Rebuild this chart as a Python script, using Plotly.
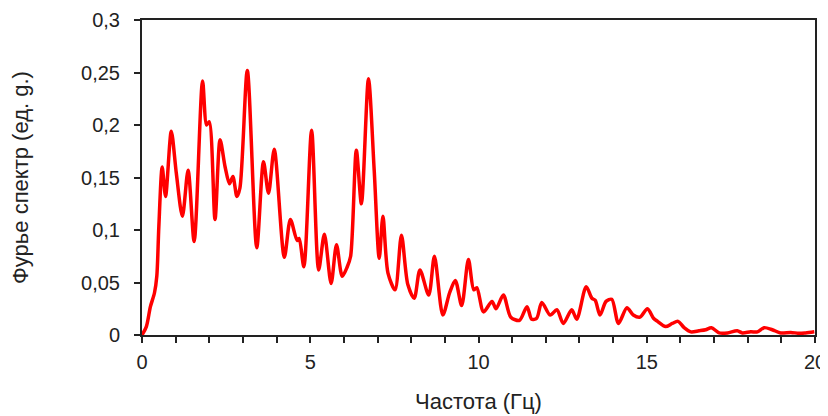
import plotly.graph_objects as go

freq = [0, 0.13, 0.25, 0.37, 0.44, 0.5, 0.6, 0.70, 0.87, 1.02, 1.2, 1.37, 1.55, 1.80, 1.92, 2.0,
        2.17, 2.32, 2.47, 2.6, 2.7, 2.82, 2.91, 3.13, 3.41, 3.61, 3.76, 3.93, 4.23, 4.41, 4.61,
        4.67, 4.81, 5.04, 5.25, 5.42, 5.62, 5.78, 5.95, 6.1, 6.2, 6.37, 6.52, 6.73, 6.9, 7.05,
        7.16, 7.31, 7.52, 7.71, 7.9, 8.09, 8.26, 8.52, 8.69, 8.94, 9.14, 9.31, 9.5, 9.7, 9.86,
        9.95, 10.15, 10.4, 10.52, 10.74, 10.96, 11.22, 11.44, 11.58, 11.73, 11.88, 12.13, 12.33,
        12.52, 12.77, 12.92, 13.2, 13.37, 13.47, 13.61, 13.79, 13.96, 14.16, 14.41, 14.6, 14.8,
        15.02, 15.2, 15.32, 15.56, 15.76, 15.93, 16.11, 16.31, 16.55, 16.75, 16.92, 17.15, 17.4,
        17.69, 17.84, 18.09, 18.29, 18.49, 18.73, 18.98, 19.28, 19.52, 19.72, 19.98]

spectrum = [0, 0.008, 0.027, 0.040, 0.056, 0.103, 0.160, 0.132, 0.194, 0.154, 0.113, 0.157, 0.089,
            0.242, 0.200, 0.203, 0.110, 0.186, 0.160, 0.144, 0.151, 0.132, 0.140, 0.252, 0.083,
            0.165, 0.135, 0.177, 0.074, 0.110, 0.090, 0.092, 0.065, 0.195, 0.062, 0.096, 0.049,
            0.086, 0.056, 0.065, 0.075, 0.176, 0.125, 0.244, 0.157, 0.073, 0.113, 0.059, 0.043,
            0.095, 0.048, 0.035, 0.062, 0.038, 0.075, 0.019, 0.040, 0.052, 0.028, 0.072, 0.043,
            0.045, 0.022, 0.032, 0.025, 0.038, 0.017, 0.014, 0.027, 0.015, 0.016, 0.031, 0.019,
            0.024, 0.011, 0.024, 0.015, 0.046, 0.035, 0.033, 0.019, 0.032, 0.034, 0.011, 0.026,
            0.019, 0.017, 0.025, 0.016, 0.013, 0.008, 0.011, 0.013, 0.007, 0.003, 0.004, 0.005,
            0.007, 0.002, 0.002, 0.004, 0.002, 0.003, 0.003, 0.007, 0.005, 0.002, 0.0025, 0.0016,
            0.002, 0.003]

x_title = "Частота (Гц)"
y_title = "Фурье спектр (ед. g.)"

fig = go.Figure()
fig.add_trace(go.Scatter(x=freq, y=spectrum, mode="lines",
                         line=dict(color="#ff0000", width=3.5, shape="spline", smoothing=0.8),
                         showlegend=False, hoverinfo="skip"))

axis_color = "#222222"
tick_font = dict(family="Liberation Sans, Arial, sans-serif", size=20, color="#222222")
title_font = dict(family="Liberation Sans, Arial, sans-serif", size=22, color="#222222")

fig.update_layout(
    width=828, height=416,
    margin=dict(l=134, r=21, t=12, b=89),
    paper_bgcolor="white", plot_bgcolor="white",
    separators=", ",
    font=tick_font,
    xaxis=dict(range=[0, 20], dtick=5, tick0=0, showgrid=False, zeroline=False,
               showline=True, linecolor=axis_color, linewidth=2, mirror=True,
               ticks="outside", ticklen=6, tickwidth=2, tickcolor=axis_color,
               minor=dict(dtick=1, ticks="outside", ticklen=6, tickwidth=2, tickcolor=axis_color),
               ticklabelstandoff=2, tickfont=tick_font, automargin=False,
               title=dict(text=x_title, standoff=22, font=title_font)),
    yaxis=dict(range=[0, 0.3], dtick=0.05, tick0=0, showgrid=False, zeroline=False,
               showline=True, linecolor=axis_color, linewidth=2, mirror=True,
               ticks="outside", ticklen=6, tickwidth=2, tickcolor=axis_color,
               ticklabelstandoff=10, tickfont=tick_font, automargin=False,
               title=dict(text=y_title, standoff=48, font=title_font)),
)

fig.write_html("out.html")
